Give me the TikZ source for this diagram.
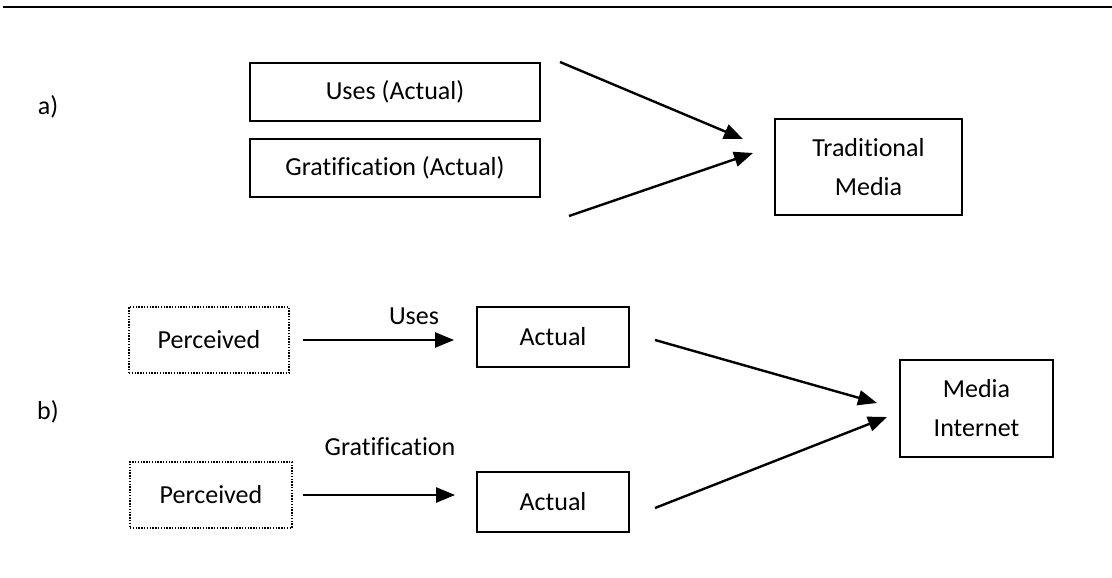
\documentclass[tikz,border=0pt]{standalone}
\usepackage{fontspec}
\setmainfont{Carlito}[Ligatures={NoCommon}]
\usetikzlibrary{arrows.meta}
\begin{document}
\begin{tikzpicture}[x=1pt,y=-1pt,
  every node/.style={font=\fontsize{26}{39}\selectfont, align=center, inner sep=0pt},
  solidbox/.style={draw, line width=1.8pt, rectangle},
  dotbox/.style={draw, line width=1.6pt, dash pattern=on 1.4pt off 1.4pt, rectangle},
  arr/.style={line width=2.4pt, -{Triangle[length=19pt,width=15pt]}}
]
\useasboundingbox (0,0) rectangle (1112,578);
\draw[line width=2pt] (3,7) -- (1112,7);

\node (la) at (48,107) {a)};
\node (lb) at (48,412) {b)};

\node[solidbox, minimum width=290pt, minimum height=58pt] (usesA) at (395,92) {Uses (Actual)};
\node[solidbox, minimum width=290pt, minimum height=58pt] (gratA) at (395,168) {Gratification (Actual)};
\node[solidbox, minimum width=187pt, minimum height=96pt] (trad) at (868.5,167) {Traditional\\Media};

\coordinate (a1s) at (560,62);
\coordinate (a1e) at (743,139);
\coordinate (a2s) at (569,216);
\coordinate (a2e) at (753,153);
\draw[arr] (a1s) -- (a1e);
\draw[arr] (a2s) -- (a2e);

\node[dotbox, minimum width=160pt, minimum height=66pt] (perc1) at (209,340) {Perceived};
\node[dotbox, minimum width=162pt, minimum height=66pt] (perc2) at (211,495) {Perceived};
\node[solidbox, minimum width=152pt, minimum height=60pt] (act1) at (553,337) {Actual};
\node[solidbox, minimum width=152pt, minimum height=60pt] (act2) at (553,502) {Actual};
\node[solidbox, minimum width=153pt, minimum height=97pt] (mi) at (976.5,408.5) {Media\\Internet};

\draw[arr, shorten <=13pt, shorten >=22pt] (perc1.east) -- (perc1.east -| act1.west);
\node (usesL) at (414,316) {Uses};
\draw[arr, shorten <=10pt, shorten >=21pt] (perc2.east) -- (perc2.east -| act2.west);
\node (gratL) at (390,447) {Gratification};

\coordinate (b1s) at (655,340);
\coordinate (b1e) at (877,403);
\coordinate (b2s) at (655,508);
\coordinate (b2e) at (887,417);
\draw[arr] (b1s) -- (b1e);
\draw[arr] (b2s) -- (b2e);
\end{tikzpicture}
\end{document}
